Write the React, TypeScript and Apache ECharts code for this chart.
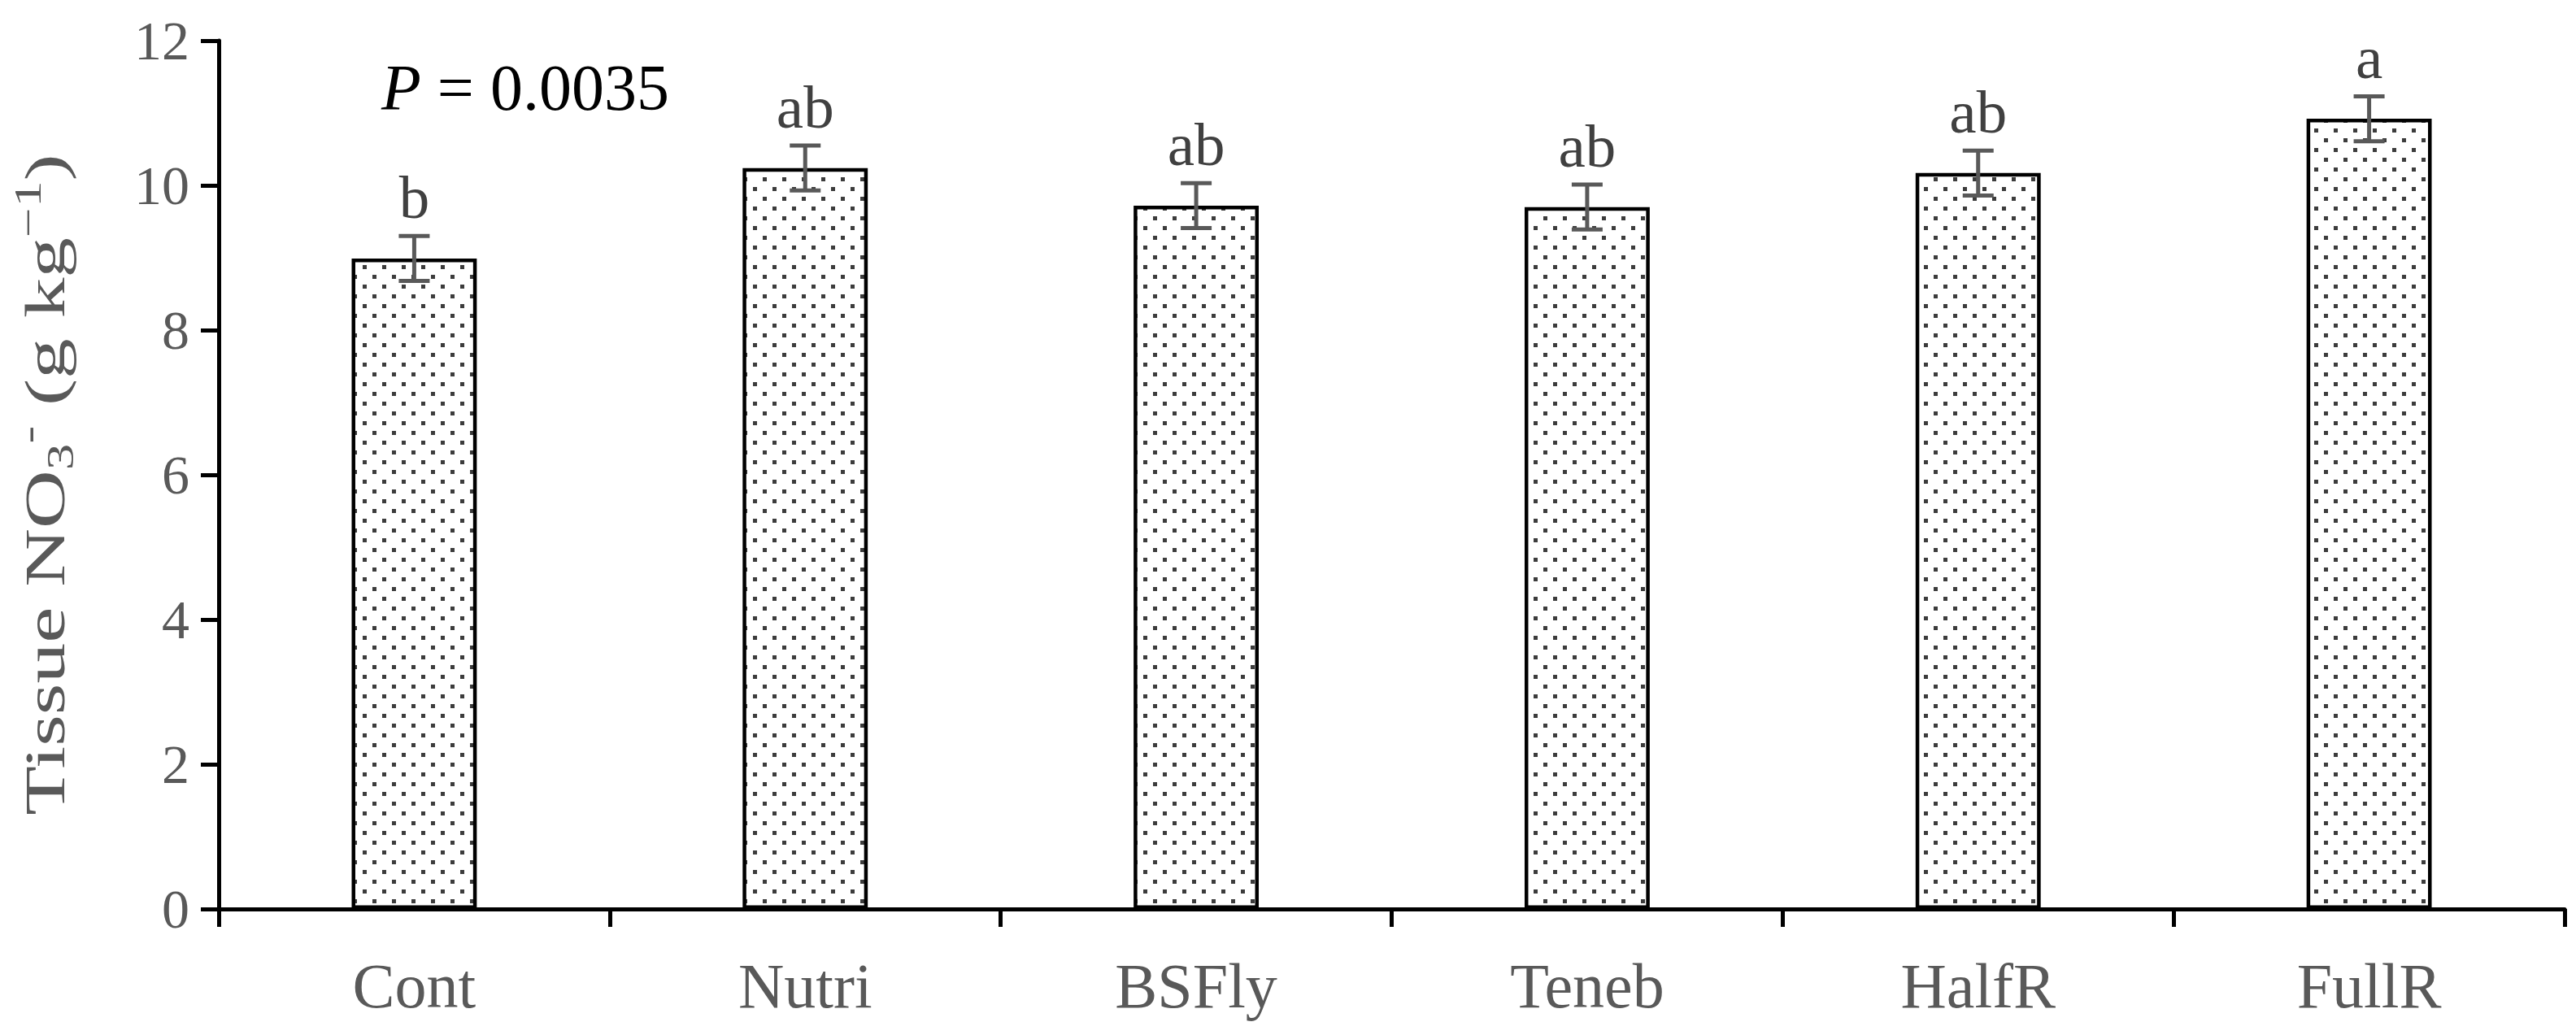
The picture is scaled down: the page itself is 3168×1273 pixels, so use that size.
import React, { useEffect, useRef } from "react";
import * as echarts from "echarts";

const categories = ["Cont", "Nutri", "BSFly", "Teneb", "HalfR", "FullR"];
const means = [8.99, 10.24, 9.72, 9.7, 10.17, 10.92];
const errors = [0.31, 0.31, 0.31, 0.31, 0.31, 0.31];
const letters = ["b", "ab", "ab", "ab", "ab", "a"];
const yTicks = { min: 0, max: 12, interval: 2 };
const pText = "0.0035";

const FONT = "'Liberation Serif', 'Times New Roman', serif";

const tileSvg =
  "<svg xmlns='http://www.w3.org/2000/svg' width='24' height='24'>" +
  "<rect width='24' height='24' fill='#ffffff'/>" +
  "<rect x='2' y='2' width='5' height='5' fill='#3c3c3c'/>" +
  "<rect x='14' y='14' width='5' height='5' fill='#3c3c3c'/>" +
  "</svg>";
const tileUrl = "data:image/svg+xml;charset=utf-8," + encodeURIComponent(tileSvg);

export default function App() {
  const ref = useRef<HTMLDivElement>(null);
  useEffect(() => {
    if (!ref.current) return;
    const chart = echarts.init(ref.current, null, { renderer: "svg" });
    const errData = categories.map((c, i) => [i, means[i], errors[i]]);
    chart.setOption({
      animation: false,
      backgroundColor: "#ffffff",
      grid: { left: 269, right: 14, top: 50, bottom: 155, containLabel: false },
      xAxis: {
        type: "category",
        data: categories,
        axisLine: { show: true, lineStyle: { color: "#000", width: 5 } },
        axisTick: { show: true, length: 22, lineStyle: { color: "#000", width: 5 } },
        axisLabel: { color: "#595959", fontFamily: FONT, fontSize: 78, margin: 55 },
        splitLine: { show: false },
      },
      yAxis: {
        type: "value",
        min: yTicks.min,
        max: yTicks.max,
        interval: yTicks.interval,
        axisLine: { show: true, lineStyle: { color: "#000", width: 5 } },
        axisTick: { show: true, length: 22, lineStyle: { color: "#000", width: 5 } },
        axisLabel: { color: "#595959", fontFamily: FONT, fontSize: 68, margin: 36 },
        splitLine: { show: false },
      },
      series: [
        {
          type: "bar",
          data: means,
          barWidth: "32%",
          itemStyle: {
            color: { image: tileUrl, repeat: "repeat", imageWidth: 24, imageHeight: 24 },
            borderColor: "#000",
            borderWidth: 4.5,
          },
          z: 2,
        },
        {
          type: "custom",
          data: errData,
          encode: { x: 0, y: 1 },
          z: 5,
          renderItem: (params: any, api: any) => {
            const idx = api.value(0);
            const v = api.value(1);
            const e = api.value(2);
            const top = api.coord([idx, v + e]);
            const bot = api.coord([idx, v - e]);
            const hw = 19;
            const st = { stroke: "#595959", lineWidth: 5 };
            return {
              type: "group",
              children: [
                { type: "line", shape: { x1: top[0], y1: top[1], x2: bot[0], y2: bot[1] }, style: st },
                { type: "line", shape: { x1: top[0] - hw, y1: top[1], x2: top[0] + hw, y2: top[1] }, style: st },
                { type: "line", shape: { x1: bot[0] - hw, y1: bot[1], x2: bot[0] + hw, y2: bot[1] }, style: st },
                {
                  type: "text",
                  x: top[0],
                  y: top[1] - 48,
                  style: {
                    text: letters[params.dataIndex],
                    fill: "#404040",
                    font: `75px ${FONT}`,
                    align: "center",
                    verticalAlign: "middle",
                  },
                },
              ],
            };
          },
        },
      ],
      graphic: [
        {
          type: "text",
          left: 469,
          top: 68,
          style: {
            text: "{i|P} = " + pText,
            fill: "#000",
            font: `80px ${FONT}`,
            rich: {
              i: { fontFamily: FONT, fontSize: 80, fontStyle: "italic", fill: "#000" },
            },
          },
        },
        {
          type: "text",
          x: 55,
          y: 596,
          rotation: Math.PI / 2,
          scaleX: 1.42,
          scaleY: 1,
          style: {
            text: "Tissue NO{sub|3}{sup|-} (g kg{sup|−1})",
            fill: "#595959",
            fontFamily: FONT,
            fontSize: 70,
            align: "center",
            verticalAlign: "middle",
            rich: {
              sub: { fontFamily: FONT, fontSize: 46, fill: "#595959", verticalAlign: "bottom", lineHeight: 86 },
              sup: { fontFamily: FONT, fontSize: 46, fill: "#595959", verticalAlign: "top", lineHeight: 86 },
            },
            lineHeight: 86,
          },
        },
      ],
    });
    return () => chart.dispose();
  }, []);
  return (
    <div
      ref={ref}
      style={{ position: "absolute", left: 0, top: 0, width: 3168, height: 1273 }}
    />
  );
}
